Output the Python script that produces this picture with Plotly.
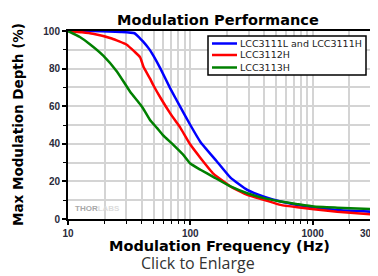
import plotly.graph_objects as go

# ---- data ----
series_names = ["LCC3111L and LCC3111H", "LCC3112H", "LCC3113H"]
series_colors = ["#0000FF", "#FF0000", "#008000"]

blue_freq = [10, 16, 27, 35, 38.9, 41, 46, 50, 57, 68.5, 83, 100, 121, 163, 213, 292, 400, 547, 750, 1024, 1585, 3000]
blue_depth = [100, 100, 99.5, 98.8, 96, 94.5, 90.5, 86.8, 80, 69.5, 59.5, 50, 41, 31, 22, 15.5, 11.9, 9.3, 7.5, 6.2, 4.8, 3.9]

red_freq = [10, 13, 16, 22.8, 30, 35, 38.9, 41.4, 47, 50, 57, 68.5, 78, 83, 100, 121, 155, 213, 292, 400, 547, 750, 1024, 1585, 3000]
red_depth = [100, 99.3, 98.5, 96, 92.8, 89, 86, 81, 74.5, 71, 64.5, 56.2, 51, 48.5, 39.6, 32.5, 24, 17.3, 12.8, 10.2, 7.5, 6.2, 5.2, 3.9, 2.5]

green_freq = [10, 12.5, 15.1, 19.5, 25.1, 32.2, 38.9, 41.4, 47, 53.3, 60, 68.5, 73, 88, 100, 121, 155, 213, 292, 400, 547, 750, 1024, 1585, 3000]
green_depth = [100, 96.8, 93, 86.8, 78.5, 67.7, 61, 58.5, 52.5, 48.5, 44.5, 41, 39.3, 34, 29.5, 26.2, 22.3, 17.3, 13.7, 11.1, 9.3, 7.9, 6.6, 6.0, 5.3]

x_tickvals = [10, 100, 1000, 3000]
x_ticktext = ["10", "100", "1000", "3000"]
x_minor = [20, 30, 40, 50, 60, 70, 80, 90, 200, 300, 400, 500, 600, 700, 800, 900, 2000]
y_tickvals = [0, 20, 40, 60, 80, 100]

title_text = "Modulation Performance"
x_title = "Modulation Frequency (Hz)"
y_title = "Max Modulation Depth (%)"
caption = "Click to Enlarge"

# ---- figure ----
fig = go.Figure()
for fx, fy, name, col in zip([blue_freq, red_freq, green_freq],
                             [blue_depth, red_depth, green_depth],
                             series_names, series_colors):
    fig.add_trace(go.Scatter(x=fx, y=fy, mode="lines", name=name,
                             line=dict(color=col, width=2.5, shape="spline", smoothing=0.4),
                             showlegend=False, hoverinfo="skip"))

tickfont = dict(family="Arial, Liberation Sans", size=10, color="#2a2a3a", weight="bold")
grid = "#d4d4d4"

# page has an 8px body margin; figure is sized to fit the 378x276 window
fig.update_layout(
    width=370, height=268,
    margin=dict(l=60, r=7, t=23, b=57, autoexpand=False),
    paper_bgcolor="white", plot_bgcolor="white",
    showlegend=False,
    xaxis=dict(type="log", range=[1, 3.4771],
               tickmode="array", tickvals=x_tickvals, ticktext=x_ticktext,
               ticks="outside", ticklen=4, tickwidth=1.5, tickcolor="black",
               ticklabeloverflow="allow", automargin=False,
               showgrid=True, gridcolor=grid, gridwidth=1.5,
               showline=True, linecolor="black", linewidth=2, mirror=True,
               tickfont=tickfont, zeroline=False,
               minor=dict(tickmode="array", tickvals=x_minor, ticks="outside",
                          ticklen=3, tickwidth=1.2, tickcolor="black",
                          showgrid=True, gridcolor=grid, gridwidth=1.5)),
    yaxis=dict(range=[0, 100], tickmode="array", tickvals=y_tickvals,
               ticks="outside", ticklen=4, tickwidth=1.5, tickcolor="black",
               automargin=False,
               showgrid=True, gridcolor=grid, gridwidth=1.5,
               showline=True, linecolor="black", linewidth=2, mirror=True,
               tickfont=tickfont, zeroline=False,
               minor=dict(dtick=10, ticks="outside", ticklen=3, tickwidth=1.2,
                          tickcolor="black", showgrid=True, gridcolor=grid, gridwidth=1.5)),
)


# helpers: reference page pixel -> paper coords (plot area 68..371 x 31..219)
def px(xp):
    return (xp - 68) / 303


def py(yp):
    return (219 - yp) / 188


bold = dict(family="DejaVu Sans", color="black", weight="bold")
annots = [
    dict(text=title_text, x=px(218), y=py(20), xref="paper", yref="paper",
         xanchor="center", yanchor="middle",
         font=dict(size=14.5, **bold), showarrow=False),
    dict(text=x_title, x=px(219), y=py(246.5), xref="paper", yref="paper",
         xanchor="center", yanchor="middle",
         font=dict(size=14.5, **bold), showarrow=False),
    dict(text=y_title, x=px(18), y=py(125), xref="paper", yref="paper",
         xanchor="center", yanchor="middle", textangle=-90,
         font=dict(size=13.5, **bold), showarrow=False),
    dict(text=caption, x=px(198), y=py(276), xref="paper", yref="paper",
         xanchor="center", yanchor="bottom",
         showarrow=False, font=dict(family="Open Sans", size=16, color="#333333")),
    dict(text="<b>THOR</b><span style='color:#dcdcdc'><b>LABS</b></span>",
         x=px(73), y=py(208), xref="paper", yref="paper", xanchor="left", yanchor="middle",
         showarrow=False, font=dict(family="Arial, Liberation Sans", size=8, color="#a8a8a8")),
]

shapes = [dict(type="rect", xref="paper", yref="paper",
               x0=px(208), x1=px(366), y0=py(75), y1=py(36),
               line=dict(color="black", width=1.5), fillcolor="white", layer="above")]
rows = [43.5, 55, 67.5]
for name, col, ry in zip(series_names, series_colors, rows):
    shapes.append(dict(type="line", xref="paper", yref="paper",
                       x0=px(212), x1=px(237), y0=py(ry), y1=py(ry),
                       line=dict(color=col, width=2.5), layer="above"))
    annots.append(dict(text=name, x=px(238), y=py(ry), xref="paper", yref="paper",
                       xanchor="left", yanchor="middle", showarrow=False,
                       font=dict(family="DejaVu Sans", size=9.5, color="#222222")))

fig.update_layout(annotations=annots, shapes=shapes)
fig.write_html("out.html")
